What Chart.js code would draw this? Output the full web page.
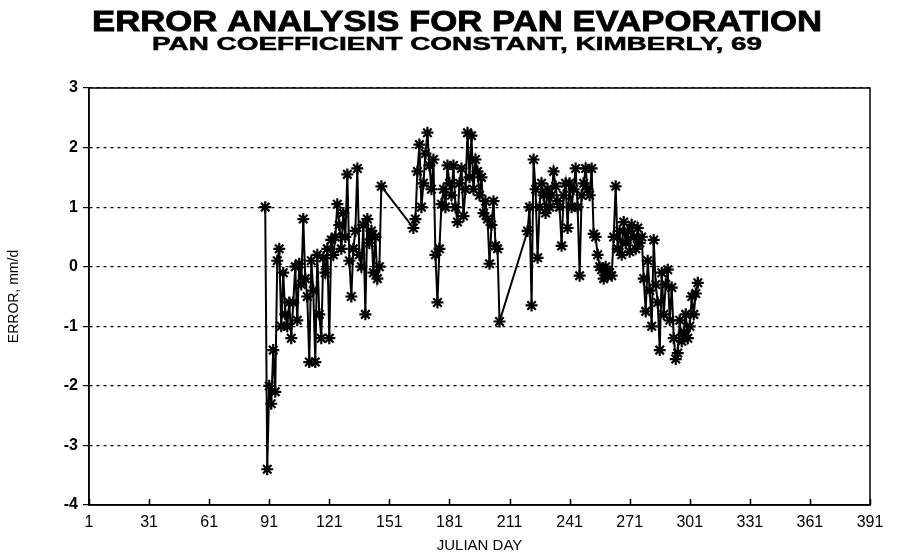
<!DOCTYPE html>
<html>
<head>
<meta charset="utf-8">
<script src="https://cdn.jsdelivr.net/npm/chart.js@4/dist/chart.umd.min.js"></script>
<style>
  html, body { margin: 0; padding: 0; background: #fff; }
  #wrap { width: 897px; height: 558px; position: relative; }
</style>
</head>
<body>
<div id="wrap"><canvas id="chart-error"></canvas></div>
<script>
// ── DATA ──────────────────────────────────────────────────────────
const titleText    = "ERROR ANALYSIS FOR PAN EVAPORATION";
const subtitleText = "PAN COEFFICIENT CONSTANT, KIMBERLY, 69";

const days = [
   89,  90,  91,  92,  93,  94,  95,  96,  97,  98,  99, 100, 101, 102, 103,
  104, 105, 106, 107, 108, 109, 110, 111, 112, 113, 114, 115, 116, 117, 118,
  119, 120, 121, 122, 123, 124, 125, 126, 127, 128, 129, 130, 131, 132, 133,
  134, 135, 136, 137, 138, 139, 140, 141, 142, 143, 144, 145, 146, 147,
  163, 164, 165, 166, 167, 168, 169, 170, 171, 172, 173, 174, 175, 176, 177,
  178, 179, 180, 181, 182, 183, 184, 185, 186, 187, 188, 189, 190, 191, 192,
  193, 194, 195, 196, 197, 198, 199, 200, 201, 202, 203, 204, 205, 206,
  220, 221, 222, 223, 224, 225, 226, 227, 228, 229, 230, 231, 232, 233, 234,
  235, 236, 237, 238, 239, 240, 241, 242, 243, 244, 245, 246, 247, 248, 249,
  250, 251, 252, 253, 254, 255, 256, 257, 258, 259, 260, 261, 262, 263, 264,
  265, 266, 267, 268, 269, 270, 271, 272, 273, 274, 275, 276, 277, 278, 279,
  280, 281, 282, 283, 284, 285, 286, 287, 288, 289, 290, 291, 292, 293, 294,
  295, 296, 297, 298, 299, 300, 301, 302, 303, 304, 305
];

const errors = [
   1.0, -3.4, -2.0, -2.3, -1.4, -2.1,  0.1,  0.3, -1.0, -0.1, -0.8, -1.0, -0.6, -1.2, -0.6,
   0.0, -0.9, 0.05, -0.3,  0.8, -0.2, -0.5, -1.6,  0.1, -0.4, -1.6,  0.2, -0.8, -1.2, 0.15,
  -0.1,  0.3, -1.2, 0.45,  0.2,  0.5, 1.05,  0.7,  0.3,  0.9,  0.5, 1.55,  0.1, -0.5,  0.3,
   0.6, 1.65,  0.2,  0.0,  0.7, -0.8,  0.8,  0.4,  0.6, -0.1,  0.5, -0.2,  0.0, 1.35,
  0.65,  0.8,  1.6, 2.05,  1.0,  1.4,  1.9, 2.25,  1.7,  1.3,  1.8,  0.2, -0.6,  0.3, 1.05,
   1.3,  1.0,  1.7,  1.4,  1.2,  1.7,  1.0, 0.75,  1.4, 1.65, 0.85,  1.3, 2.25,  1.5,  2.2,
   1.3,  1.8,  1.6,  1.2,  1.5,  0.9,  1.1,  0.8, 0.05,  0.7,  1.1, 0.35,  0.3, -0.92,
   0.6,  1.0, -0.65, 1.8,  1.3, 0.15,  1.0,  1.4,  1.2,  0.9,  1.3,  1.0,  1.2,  1.6, 1.35,
   1.1,  1.0, 0.35,  1.2,  1.4, 0.65,  1.4,  1.0,  1.3, 1.65,  1.0, -0.15, 1.2,  1.4, 1.65,
   1.3,  1.2, 1.65, 0.55,  0.5,  0.2,  0.0, -0.05, -0.2, 0.0, -0.15, -0.1, -0.15, 0.5, 1.35,
   0.3,  0.6,  0.2, 0.75,  0.4,  0.6, 0.25,  0.7,  0.5,  0.3, 0.65,  0.4,  0.5, -0.2, -0.75,
   0.1, -0.4, -1.0, 0.45, -0.3, -0.6, -1.4, -0.1, -0.8, -0.3, -0.05, -0.9, -0.35, -1.2, -1.55,
  -1.45, -0.9, -1.25, -1.1, -0.8, -1.2, -1.0, -0.5, -0.8, -0.45, -0.27
];

const xMin = 1,  xMax = 391, xStep = 30;
const yMin = -4, yMax = 3,   yStep = 1;

// ── PLUGINS ───────────────────────────────────────────────────────
// stretched heavy titles, like the old plotter lettering
const titlePlugin = {
  id: "stretchTitles",
  afterDraw(chart) {
    const ctx = chart.ctx;
    const lines = [
      { text: titleText,    font: "bold 30px 'Liberation Sans', Arial, sans-serif", y: 31, w: 730 },
      { text: subtitleText, font: "bold 18px 'Liberation Sans', Arial, sans-serif", y: 50, w: 610 },
    ];
    ctx.save();
    ctx.fillStyle = "#000";
    ctx.strokeStyle = "#000";
    ctx.textAlign = "center";
    ctx.textBaseline = "alphabetic";
    lines.forEach((l, i) => {
      ctx.font = l.font;
      const sx = l.w / ctx.measureText(l.text).width;
      ctx.save();
      ctx.translate(457, l.y);
      ctx.scale(sx, 1);
      ctx.fillText(l.text, 0, 0);
      // a touch of extra weight, the scan is very heavy
      ctx.lineWidth = i === 0 ? 0.8 : 0.5;
      ctx.strokeText(l.text, 0, 0);
      ctx.restore();
    });
    ctx.restore();
  }
};

// solid frame round the plot area + short inward ticks on the day axis
const framePlugin = {
  id: "frame",
  afterDatasetsDraw(chart) {
    const { ctx, chartArea: a, scales } = chart;
    ctx.save();
    ctx.strokeStyle = "#000";
    ctx.lineWidth = 1.5;
    ctx.strokeRect(a.left, a.top, a.right - a.left, a.bottom - a.top);
    ctx.beginPath();
    scales.x.ticks.forEach(t => {
      const px = Math.round(scales.x.getPixelForValue(t.value)) + 0.5;
      ctx.moveTo(px, a.bottom);
      ctx.lineTo(px, a.bottom - 6);
    });
    ctx.stroke();
    ctx.restore();
  }
};

// ── CHART ─────────────────────────────────────────────────────────
const tickFont = { family: "'Liberation Sans', Arial, sans-serif", size: 16 };

new Chart(document.getElementById("chart-error"), {
  type: "line",
  data: {
    datasets: [{
      label: "Error",
      data: days.map((d, i) => ({ x: d, y: errors[i] })),
      borderColor: "#000",
      backgroundColor: "#000",
      borderWidth: 2,
      pointStyle: "star",
      pointRadius: 6,
      pointBorderWidth: 2.2,
      pointBorderColor: "#000",
      tension: 0,
      fill: false,
    }]
  },
  options: {
    responsive: true,
    maintainAspectRatio: false,
    animation: false,
    layout: { padding: { top: 88, right: 27, left: 0, bottom: 0 } },
    plugins: {
      legend:  { display: false },
      title:   { display: false },
      tooltip: { enabled: false },
    },
    scales: {
      x: {
        type: "linear",
        min: xMin, max: xMax,
        ticks: { stepSize: xStep, color: "#000", font: tickFont, padding: 0, maxRotation: 0, autoSkip: false },
        grid: { display: false },
        border: { display: true, color: "#000", width: 1.5 },
        title: {
          display: true, text: "JULIAN DAY", color: "#000",
          font: { family: "'Liberation Sans', Arial, sans-serif", size: 15 },
          padding: { top: 0, bottom: 3 }
        },
        afterFit: s => { s.height = 53; }
      },
      y: {
        min: yMin, max: yMax,
        ticks: { stepSize: yStep, color: "#000", font: { ...tickFont, weight: "bold" }, padding: 5 },
        grid: { color: "#000", lineWidth: 1.2, drawTicks: true, tickLength: 6, tickBorderDash: [] },
        border: { display: true, color: "#000", width: 1.5, dash: [3, 4] },
        title: {
          display: true, text: "ERROR, mm/d", color: "#000",
          font: { family: "'Liberation Sans', Arial, sans-serif", size: 14 },
          padding: { top: 6, bottom: 0 }
        },
        afterFit: s => { s.width = 89; }
      }
    }
  },
  plugins: [titlePlugin, framePlugin]
});
</script>
</body>
</html>
